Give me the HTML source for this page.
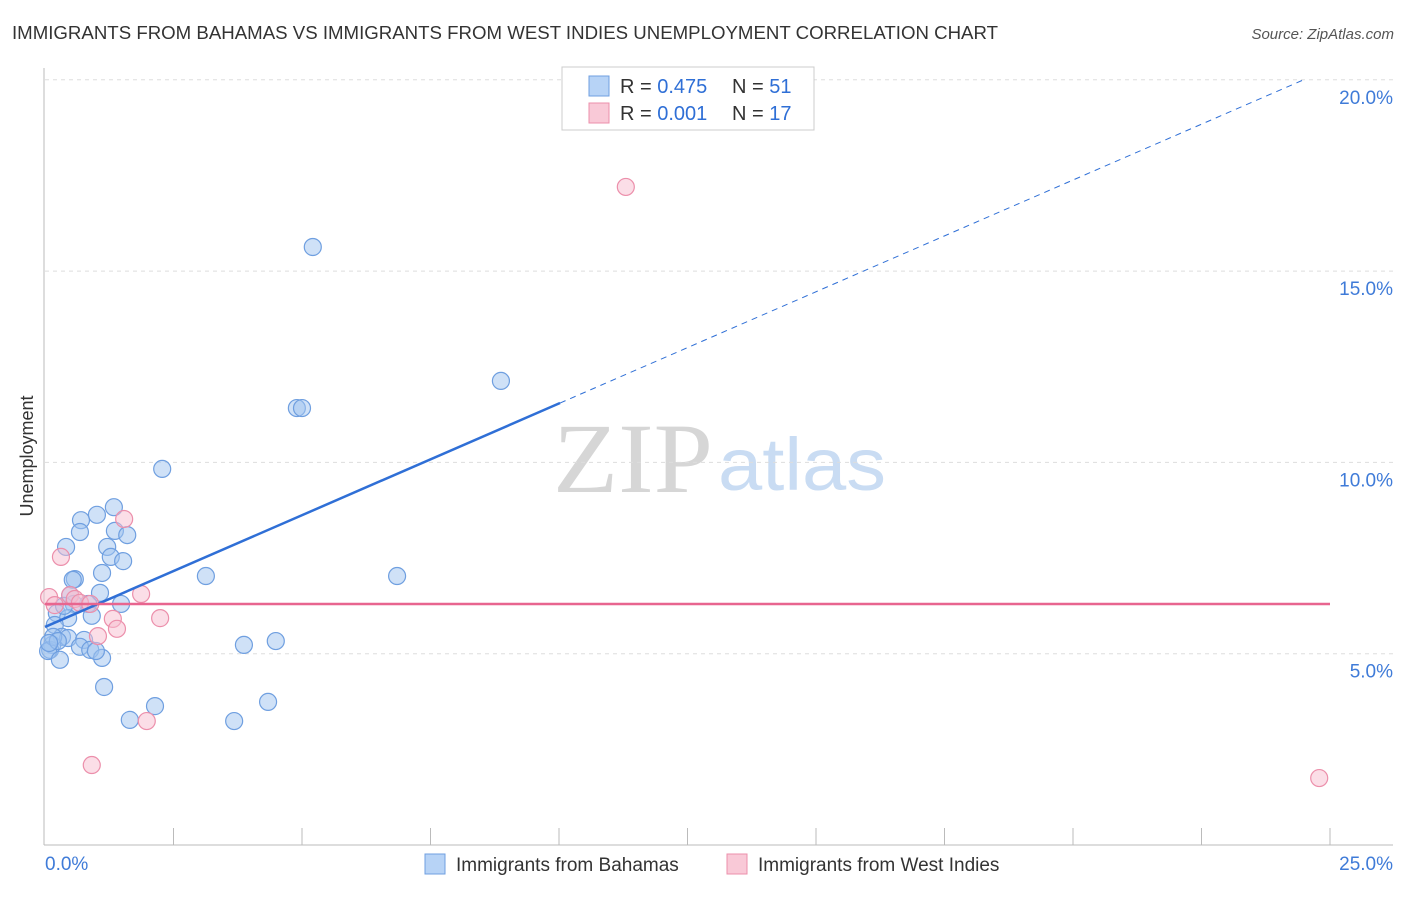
<!DOCTYPE html>
<html><head><meta charset="utf-8"><style>
body{margin:0;background:#fff;font-family:"Liberation Sans",sans-serif;}
</style></head><body>
<svg id="chart" width="1406" height="892" font-family="Liberation Sans, sans-serif">
<text x="12" y="39" font-size="18" fill="#333" textLength="986" lengthAdjust="spacingAndGlyphs">IMMIGRANTS FROM BAHAMAS VS IMMIGRANTS FROM WEST INDIES UNEMPLOYMENT CORRELATION CHART</text>
<text x="1394" y="39" font-size="15" fill="#555" font-style="italic" text-anchor="end">Source: ZipAtlas.com</text>
<text x="33" y="456" font-size="18" fill="#333" transform="rotate(-90 33 456)" text-anchor="middle">Unemployment</text>
<g><text x="553" y="492" font-size="100" fill="#d6d6d6" style="font-family:'Liberation Serif',serif" textLength="160" lengthAdjust="spacingAndGlyphs">ZIP</text><text x="718" y="490" font-size="74" fill="#c9dcf3" textLength="168" lengthAdjust="spacingAndGlyphs">atlas</text></g>
<g id="grid"></g><g id="marks"></g>
<g>
<rect x="562" y="67" width="252" height="63" fill="#fff" stroke="#ccc"/>
<rect x="589" y="76" width="20" height="20" fill="#b7d3f6" stroke="#6f9fe0"/>
<rect x="589" y="103" width="20" height="20" fill="#f9c9d7" stroke="#ec8fab"/>
<text x="620" y="93" font-size="20" fill="#333">R = <tspan fill="#2f6fd6">0.475</tspan></text>
<text x="732" y="93" font-size="20" fill="#333">N = <tspan fill="#2f6fd6">51</tspan></text>
<text x="620" y="120" font-size="20" fill="#333">R = <tspan fill="#2f6fd6">0.001</tspan></text>
<text x="732" y="120" font-size="20" fill="#333">N = <tspan fill="#2f6fd6">17</tspan></text>
</g>
<g>
<rect x="425" y="854" width="20" height="20" fill="#b7d3f6" stroke="#6f9fe0"/>
<text x="456" y="871" font-size="19" fill="#333">Immigrants from Bahamas</text>
<rect x="727" y="854" width="20" height="20" fill="#f9c9d7" stroke="#ec8fab"/>
<text x="758" y="871" font-size="19" fill="#333">Immigrants from West Indies</text>
</g>
</svg>
<script>
const yTicks=[5,10,15,20];
const yTickLabels=["5.0%","10.0%","15.0%","20.0%"];
const xTickValues=[2.5,5,7.5,10,12.5,15,17.5,20,22.5,25];
const xEndLabels=["0.0%","25.0%"];
const blueX=[5.21,8.87,4.90,5.00,2.28,1.34,1.01,0.70,0.68,1.36,1.60,0.41,1.21,1.28,1.52,1.11,3.13,6.85,0.58,0.54,1.07,0.49,0.84,1.48,0.23,0.56,0.45,0.91,0.19,0.33,0.45,0.76,0.68,3.87,4.49,0.14,0.10,0.88,0.06,1.11,0.29,1.15,2.14,4.34,1.65,3.68,0.16,0.25,0.99,0.08,0.37];
const blueY=[15.63,12.13,11.42,11.42,9.83,8.83,8.63,8.49,8.18,8.21,8.10,7.79,7.79,7.53,7.42,7.11,7.03,7.03,6.95,6.93,6.59,6.53,6.30,6.30,6.06,6.30,5.93,5.99,5.75,5.44,5.41,5.36,5.18,5.23,5.33,5.23,5.10,5.10,5.07,4.89,4.84,4.13,3.63,3.74,3.27,3.24,5.44,5.33,5.07,5.28,6.25];
const pinkX=[11.30,1.54,0.31,0.08,1.87,0.49,0.58,0.68,0.88,2.24,1.32,1.03,1.40,1.98,0.91,24.79,0.19];
const pinkY=[17.20,8.52,7.53,6.48,6.56,6.53,6.43,6.33,6.30,5.93,5.91,5.46,5.65,3.24,2.09,1.75,6.27];
const blueTrend=[5.70,0.584]; // intercept, slope
const pinkTrend=[6.30,0];
const sx=v=>45+v*51.4, sy=v=>845-v*38.26;
const NS="http://www.w3.org/2000/svg";
function mk(tag,attrs,parent){const e=document.createElementNS(NS,tag);for(const k in attrs)e.setAttribute(k,attrs[k]);parent.appendChild(e);return e;}
const grid=document.getElementById('grid'),marks=document.getElementById('marks');
yTicks.forEach((t,i)=>{
 const l=mk('line',{x1:45,x2:1393,y1:sy(t),y2:sy(t),stroke:'#ddd','stroke-dasharray':'4,4'},grid);
 
 
 const tx=mk('text',{x:1393,y:sy(t)+24,'font-size':19,fill:'#3f7bd8','text-anchor':'end'},grid);tx.textContent=yTickLabels[i];
 
 
});
const ya=mk('line',{x1:44,x2:44,y1:68,y2:845,stroke:'#bbb'},grid);


const xa=mk('line',{x1:44,x2:1393,y1:845,y2:845,stroke:'#bbb'},grid);


xTickValues.forEach(t=>{const l=mk('line',{x1:sx(t),x2:sx(t),y1:828,y2:845,stroke:'#bbb'},grid);
 
 });
const xl0=mk('text',{x:45,y:870,'font-size':19,fill:'#3f7bd8'},grid);xl0.textContent=xEndLabels[0];


const xl1=mk('text',{x:1393,y:870,'font-size':19,fill:'#3f7bd8','text-anchor':'end'},grid);xl1.textContent=xEndLabels[1];


blueX.forEach((x,i)=>{const c=mk('circle',{cx:sx(x),cy:sy(blueY[i]),r:8.5,fill:'rgba(160,196,240,0.5)',stroke:'#6f9fe0','stroke-width':1.2},marks);
 
 });
pinkX.forEach((x,i)=>{const c=mk('circle',{cx:sx(x),cy:sy(pinkY[i]),r:8.5,fill:'rgba(248,190,208,0.5)',stroke:'#ec8fab','stroke-width':1.2},marks);
 
 });
const bf=x=>blueTrend[0]+blueTrend[1]*x;
const t1=mk('line',{x1:sx(0),y1:sy(bf(0)),x2:sx(10.02),y2:sy(bf(10.02)),stroke:'#2f6fd6','stroke-width':2.5},marks);


const t2=mk('line',{x1:sx(10.02),y1:sy(bf(10.02)),x2:sx(24.5),y2:sy(bf(24.5)),stroke:'#2f6fd6','stroke-width':1,'stroke-dasharray':'6,5'},marks);


const pf=x=>pinkTrend[0]+pinkTrend[1]*x;
const t3=mk('line',{x1:sx(0),y1:sy(pf(0)),x2:sx(25),y2:sy(pf(25)),stroke:'#e8658f','stroke-width':2.5},marks);


</script>
</body></html>
